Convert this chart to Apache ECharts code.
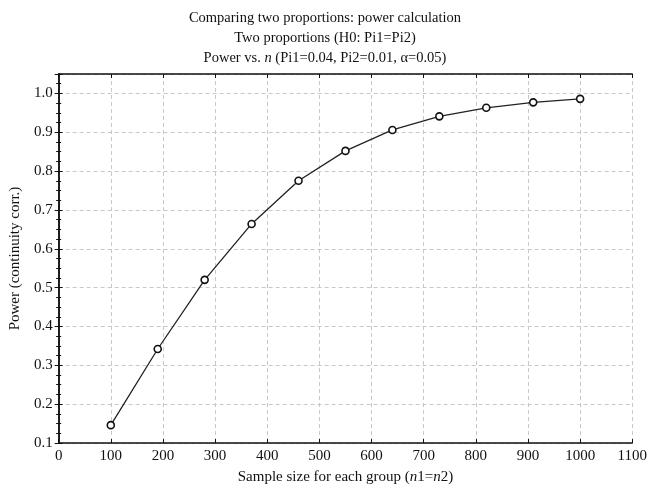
<!DOCTYPE html>
<html><head><meta charset="utf-8">
<script src="https://cdn.jsdelivr.net/npm/echarts@6/dist/echarts.min.js"></script>
<style>html,body{margin:0;padding:0;background:#fff}#c{width:650px;height:490px}</style>
</head><body><div id="c"></div>
<script>
var sampleSizes = [100, 190, 280, 370, 460, 550, 640, 730, 820, 910, 1000];
var powerValues = [0.146, 0.342, 0.52, 0.664, 0.775, 0.852, 0.906, 0.941, 0.963, 0.977, 0.986];
var titleLines = ['Comparing two proportions: power calculation', 'Two proportions (H0: Pi1=Pi2)'];

var chart = echarts.init(document.getElementById('c'));
var font = 'Liberation Serif';
var data = sampleSizes.map(function (n, i) { return [n, powerValues[i]]; });
var gridLine = { show: true, lineStyle: { color: '#c8c8c8', type: [4, 3], width: 1 } };
chart.setOption({
  animation: false,
  title: {
    text: titleLines[0] + '\n' + titleLines[1] + '\nPower vs. {i|n} (Pi1=0.04, Pi2=0.01, α=0.05)',
    left: 'center', top: 3,
    textStyle: {
      fontFamily: font, fontSize: 14.5, fontWeight: 'normal', color: '#111', lineHeight: 20,
      rich: { i: { fontFamily: font, fontSize: 14.5, fontStyle: 'italic', color: '#111', lineHeight: 20 } }
    }
  },
  grid: { left: 56, right: 12, top: 74, bottom: 43 },
  xAxis: [{
    type: 'value', min: 0, max: 1100, interval: 100,
    name: 'Sample size for each group ({i|n}1={i|n}2)', nameLocation: 'middle', nameGap: 27,
    nameTextStyle: { fontFamily: font, fontSize: 15, color: '#111',
      rich: { i: { fontFamily: font, fontSize: 15, fontStyle: 'italic', color: '#111' } } },
    axisLine: { show: true, lineStyle: { color: '#111', width: 1.5 } },
    axisTick: { show: true, inside: true, length: 4, lineStyle: { color: '#111' } },
    axisLabel: { fontFamily: font, fontSize: 15, color: '#111', margin: 6,
      formatter: function (v) { return String(v); } },
    splitLine: gridLine
  }, {
    type: 'value', min: 0, max: 1100, interval: 100, position: 'top',
    axisLine: { show: true, lineStyle: { color: '#111', width: 1.5 } },
    axisTick: { show: true, inside: true, length: 4, lineStyle: { color: '#111' } },
    axisLabel: { show: false }, splitLine: { show: false }
  }],
  yAxis: [{
    type: 'value', min: 0.1, max: 1.05, interval: 0.1,
    name: 'Power (continuity corr.)', nameLocation: 'middle', nameGap: 32, nameRotate: 90,
    nameTextStyle: { fontFamily: font, fontSize: 15, color: '#111' },
    axisLine: { show: true, lineStyle: { color: '#111', width: 1.5 } },
    axisTick: { show: true, inside: true, length: 4, lineStyle: { color: '#111' } },
    minorTick: { show: true, splitNumber: 4, length: 2.5, lineStyle: { color: '#111' } },
    axisLabel: { fontFamily: font, fontSize: 15, color: '#111', margin: 6, showMaxLabel: false,
      formatter: function (v) { return v.toFixed(1); } },
    splitLine: gridLine
  }, {
    type: 'value', min: 0.1, max: 1.05, interval: 0.1, position: 'right',
    axisLine: { show: true, lineStyle: { color: '#111', width: 1.5 } },
    axisTick: { show: true, inside: true, length: 4, lineStyle: { color: '#111' } },
    minorTick: { show: true, splitNumber: 4, length: 2.5, lineStyle: { color: '#111' } },
    axisLabel: { show: false }, splitLine: { show: false }
  }],
  series: [{
    type: 'line', data: data, symbol: 'circle', symbolSize: 7, showAllSymbol: true,
    lineStyle: { color: '#222', width: 1.3 },
    itemStyle: { color: '#fff', borderColor: '#111', borderWidth: 1.6 }
  }]
});
</script></body></html>
